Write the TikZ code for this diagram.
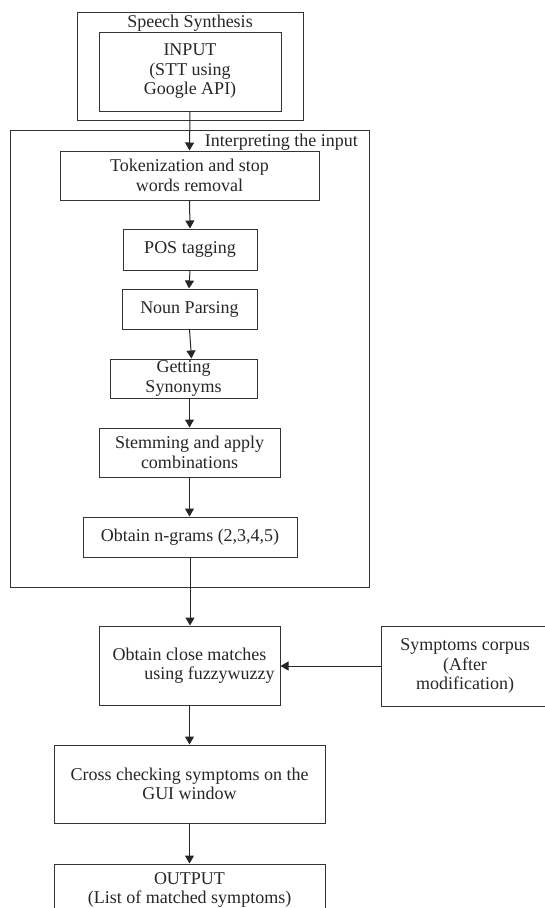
\documentclass[tikz,border=0pt]{standalone}
\usepackage{fontspec}
\setmainfont{Liberation Serif}
\usetikzlibrary{arrows.meta}
\begin{document}
\begin{tikzpicture}[x=1pt,y=-1pt,
  font=\fontsize{18}{19.5}\selectfont,
  box/.style={draw=black!80, line width=1pt, text=black!85, align=center, inner sep=0pt},
  lbl/.style={text=black!85, inner sep=0pt},
  arr/.style={draw=black!85, line width=1pt, -{Triangle[length=8pt,width=9pt]}}]
\useasboundingbox (0,0) rectangle (545,908);
% groups
\node[box, minimum width=226pt, minimum height=108pt] (ss) at (190,66) {};
\node[lbl] (sslabel) at (190,23) {Speech Synthesis};
\node[box, minimum width=359pt, minimum height=457pt] (interp) at (189.5,358.5) {};
\node[lbl, anchor=east] (interplabel) at (358,142) {Interpreting the input};
% boxes
\node[box, minimum width=182pt, minimum height=79pt] (input) at (190,71.5) {INPUT\\(STT using\\Google API)};
\node[box, minimum width=259pt, minimum height=49pt] (tok) at (189.5,175.5) {Tokenization and stop\\words removal};
\node[box, minimum width=134pt, minimum height=41pt] (pos) at (190,249.5) {POS tagging};
\node[box, minimum width=135pt, minimum height=40pt] (noun) at (189.5,309) {Noun Parsing};
\node[box, minimum width=147pt, minimum height=39pt] (syn) at (183.5,378.5) {Getting\\Synonyms};
\node[box, minimum width=181pt, minimum height=49pt] (stem) at (189.5,452.5) {Stemming and apply\\combinations};
\node[box, minimum width=214pt, minimum height=40pt] (ngram) at (190,537) {Obtain n-grams (2,3,4,5)};
\node[box, minimum width=181pt, minimum height=79pt] (close) at (189.5,665.5) {Obtain close matches\\\hspace*{40pt}using fuzzywuzzy};
\node[box, minimum width=168pt, minimum height=80pt] (corpus) at (465,666) {Symptoms corpus\\(After\\modification)};
\node[box, minimum width=271pt, minimum height=78pt] (cross) at (189.5,784) {Cross checking symptoms on the\\GUI window};
\node[box, minimum width=271pt, minimum height=52pt] (output) at (189.5,890) {OUTPUT\\(List of matched symptoms)};
% connectors
\draw[arr] (input.south) -- (tok.north);
\draw[arr] (tok.south) -- (pos.north);
\draw[arr] (pos.south) -- ([xshift=-0.5pt]noun.north);
\draw[arr] (noun.south) -- ([xshift=8pt]syn.north);
\draw[arr] ([xshift=6pt]syn.south) -- (stem.north);
\draw[arr] (stem.south) -- ([xshift=-0.5pt]ngram.north);
\draw[arr] (ngram.south) -- ([xshift=0.5pt]close.north);
\draw[arr] (close.south) -- (cross.north);
\draw[arr] (cross.south) -- (output.north);
\draw[arr] (corpus.west) -- (close.east |- corpus.west);
\end{tikzpicture}
\end{document}
